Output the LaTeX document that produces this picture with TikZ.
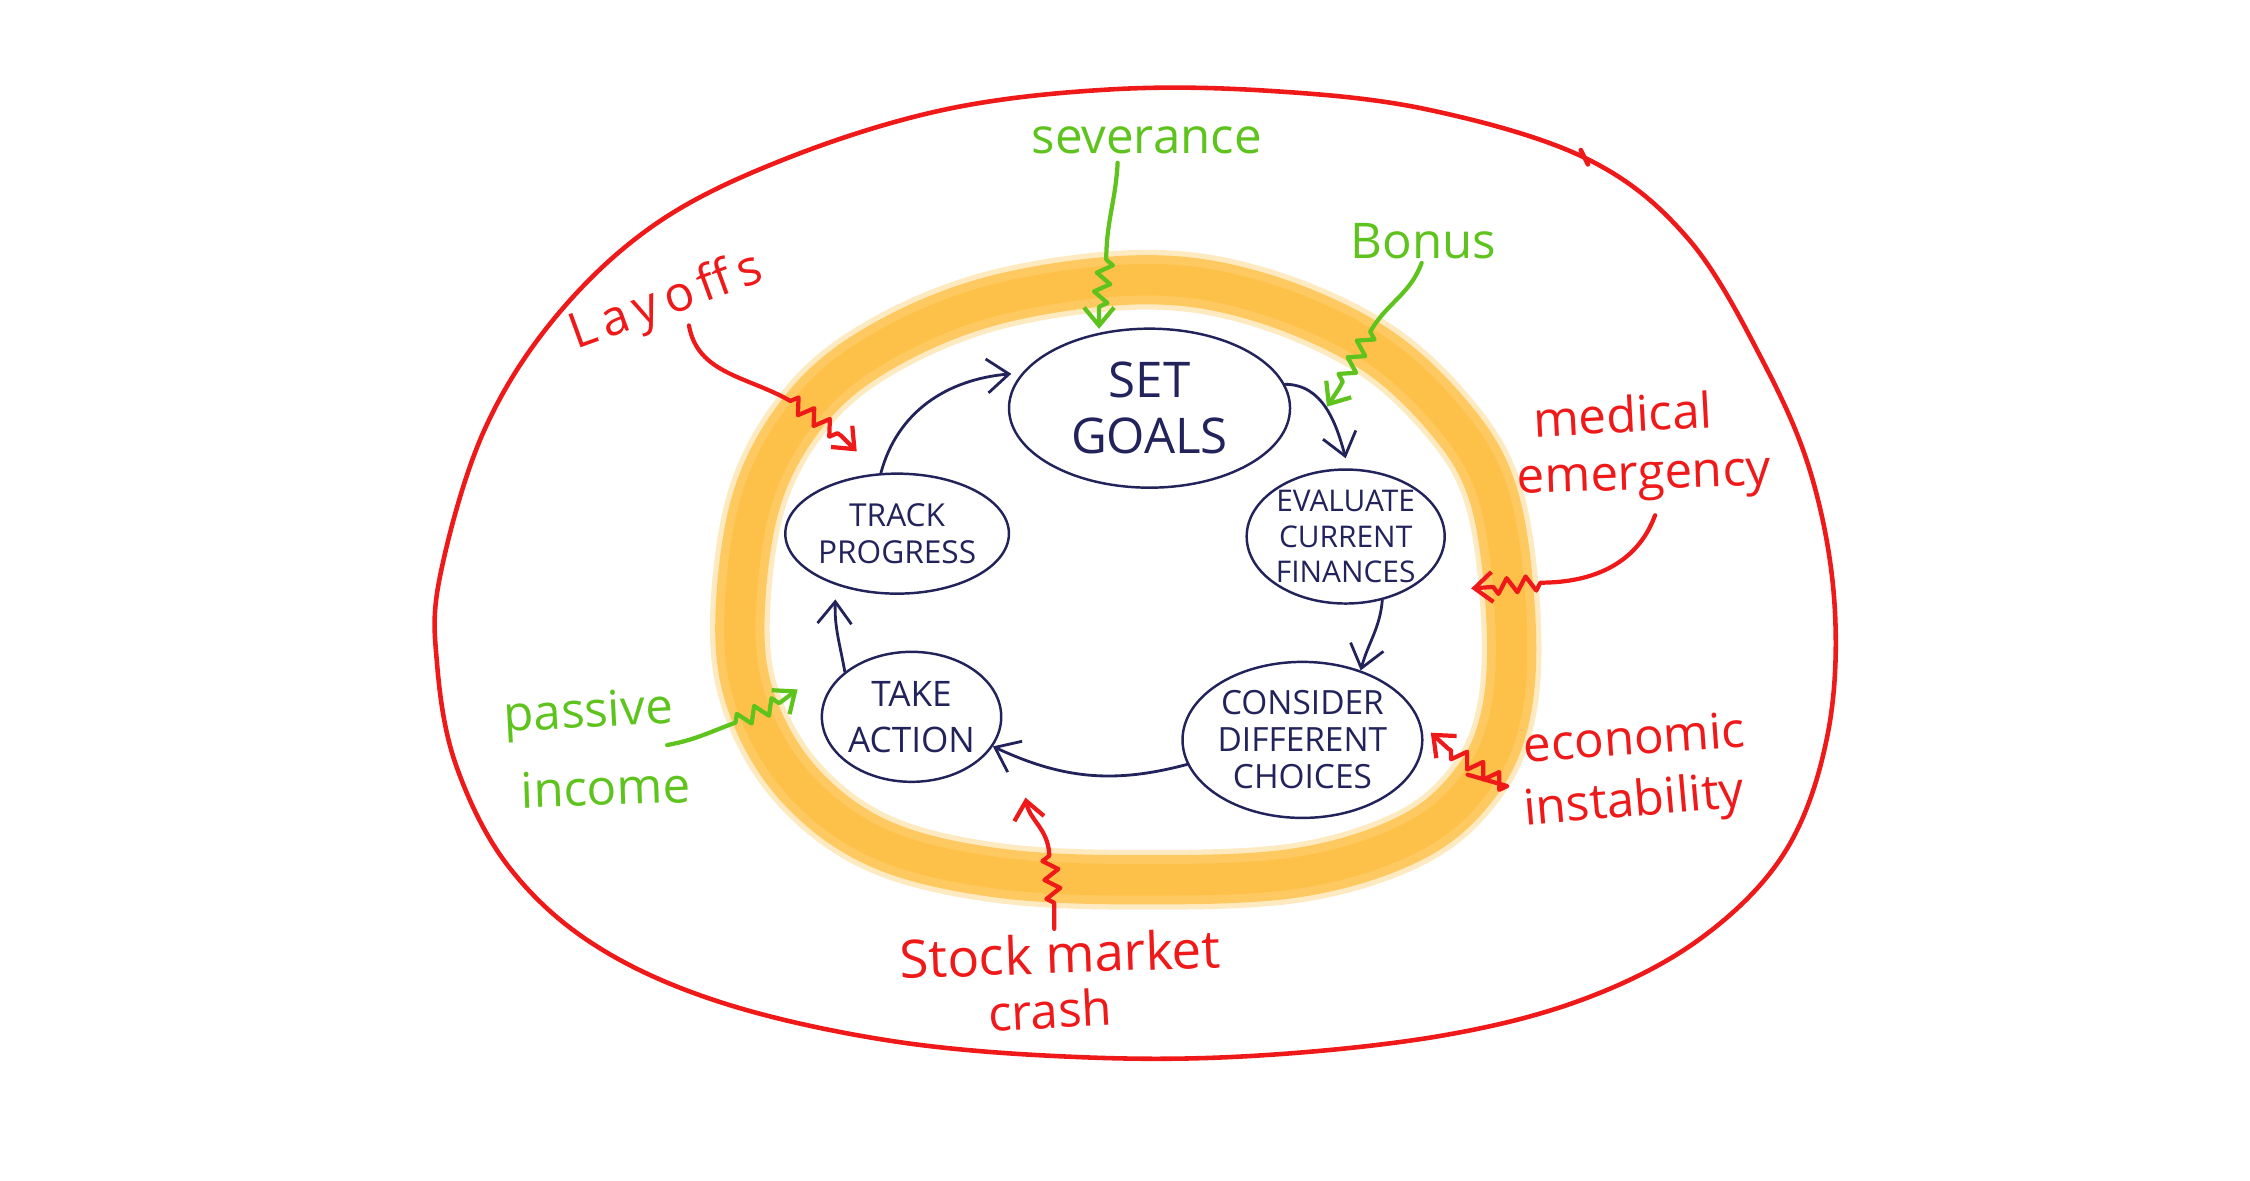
\documentclass[tikz,border=0pt]{standalone}
\usepackage{fontspec}
\setmainfont{Open Sans}
\usetikzlibrary{shapes.geometric,decorations.pathmorphing,arrows.meta}
\definecolor{navy}{RGB}{35,35,92}
\definecolor{hred}{RGB}{240,25,25}
\definecolor{hgreen}{RGB}{95,195,30}
\definecolor{band}{RGB}{253,184,45}
\begin{document}
\begin{tikzpicture}[x=0.14423mm,y=-0.14423mm,
  stepnode/.style={draw=navy,line width=0.7pt,ellipse,inner sep=0pt,align=center,text=navy},
  flow/.style={draw=navy,line width=0.8pt,line cap=round,-{Straight Barb[length=2.2mm,width=3.4mm]}},
  lblr/.style={text=hred,font=\fontsize{14}{16}\selectfont,inner sep=1pt},
  lblg/.style={text=hgreen,font=\fontsize{14}{16}\selectfont,inner sep=1pt},
  hitr/.style={draw=hred,line width=1.2pt,line join=round,line cap=round,-{Straight Barb[length=1.8mm,width=3mm]}},
  hitg/.style={draw=hgreen,line width=1.2pt,line join=round,line cap=round,-{Straight Barb[length=1.8mm,width=3mm]}},
  zz/.style={decoration={zigzag,amplitude=0.75mm,segment length=1.9mm}}
]
\useasboundingbox (0,0) rectangle (1560,818.8);

% outer red boundary
\draw[hred,line width=1.3pt] plot[smooth cycle,tension=0.6] coordinates {
 (305,400) (335,300) (385,220) (455,155) (545,110) (655,76) (770,62) (880,63)
 (990,76) (1100,110) (1170,165) (1222,250) (1256,330) (1272,420) (1267,510)
 (1238,590) (1180,650) (1100,692) (1000,718) (870,732) (750,733) (620,722)
 (500,695) (412,655) (352,600) (316,530) (303,460)};
\draw[hred,line width=1.3pt,line cap=round] (1096,104) -- (1101,114);

% orange band
\foreach \w/\o in {17pt/0.3,14pt/0.65,9pt/0.45}{
\draw[band,line width=\w,opacity=\o] plot[smooth cycle,tension=0.6] coordinates {
 (513,430) (525,345) (560,282) (612,240) (690,208) (790,194) (870,205)
 (950,240) (1005,290) (1035,342) (1047,420) (1045,490) (1025,540) (980,580)
 (900,605) (790,610) (690,605) (610,585) (555,545) (522,490)};
}

% step nodes
\node[stepnode,minimum width=28.1mm,minimum height=15.9mm,font=\fontsize{14}{16}\selectfont] (sg) at (797,283) {SET\\GOALS};
\node[stepnode,minimum width=19.8mm,minimum height=13.4mm,font=\fontsize{8.5}{10}\selectfont] (ev) at (933,372) {EVALUATE\\CURRENT\\FINANCES};
\node[stepnode,minimum width=23.8mm,minimum height=15.6mm,font=\fontsize{9.5}{10.5}\selectfont] (co) at (903,513) {CONSIDER\\DIFFERENT\\CHOICES};
\node[stepnode,minimum width=15.9mm,minimum height=13mm,font=\fontsize{10}{13}\selectfont] (ta) at (632,497) {TAKE\\ACTION};
\node[stepnode,minimum width=19mm,minimum height=12mm,font=\fontsize{9}{10.5}\selectfont] (tr) at (622,370) {TRACK\\PROGRESS};

% flow arrows
\draw[flow] (tr.105) to[out=75,in=185] ([xshift=-1mm]sg.165);
\draw[flow] (sg.10) to[out=0,in=105] ([yshift=1mm]ev.north);
\draw[flow] (ev.-60) to[out=-95,in=75] (co.50);
\draw[flow] (co.192) to[out=195,in=-25] (ta.-20);
\draw[flow] (ta.146) to[out=100,in=-92] ([xshift=-1.5mm,yshift=-1mm]tr.230);

% labels
\node[lblg] (sev) at (795,97) {severance};
\node[lblg] (bon) at (987,167) {Bonus};
\node[lblr,rotate=20,font=\fontsize{14}{16}\selectfont\addfontfeatures{LetterSpace=15}] (lay) at (462,210) {Layoffs};
\node[lblr,rotate=3] (med) at (1125,287) {medical};
\node[lblr,rotate=2] (emg) at (1140,334) {emergency};
\node[lblr,rotate=4] (eco) at (1133,511) {economic};
\node[lblr,rotate=5] (ins) at (1133,557) {instability};
\node[lblr,rotate=2,font=\fontsize{15}{17}\selectfont] (stk) at (735,661) {Stock market};
\node[lblr,rotate=3] (cra) at (728,700) {crash};
\node[lblg,rotate=3] (pas) at (408,496) {passive};
\node[lblg,rotate=2] (inc) at (420,546) {income};

% impact coordinates
\coordinate (sevA) at (767,180); \coordinate (sevB) at (762,214); \coordinate (sevT) at (762,228);
\coordinate (bonA) at (950,230); \coordinate (bonB) at (928,270); \coordinate (bonT) at (920,282);
\coordinate (layA) at (548,278); \coordinate (layB) at (583,302); \coordinate (layT) at (594,313);
\coordinate (medA) at (1068,404); \coordinate (medB) at (1034,407); \coordinate (medT) at (1020,408);
\coordinate (ecoA) at (1045,545); \coordinate (ecoB) at (1004,519); \coordinate (ecoT) at (992,508);
\coordinate (stkA) at (731,626); \coordinate (stkB) at (727,588); \coordinate (stkT) at (711,553);
\coordinate (pasA) at (510,501); \coordinate (pasB) at (541,487); \coordinate (pasT) at (553,478);

% impact arrows
\draw[hitg] ([xshift=-2.9mm,yshift=-0.5mm]sev.south) to[out=-93,in=90] (sevA) decorate[zz]{-- (sevB)} -- (sevT);
\draw[hitg] (bon.-95) to[out=-110,in=60] (bonA) decorate[zz]{-- (bonB)} -- (bonT);
\draw[hitr] (lay.-65) to[out=-80,in=150] (layA) decorate[zz]{-- (layB)} -- (layT);
\draw[hitr] ([xshift=1mm,yshift=-1mm]emg.south) to[out=-110,in=0] (medA) decorate[zz]{-- (medB)} -- (medT);
\draw[hitr] ([xshift=-5mm,yshift=1mm]ins.north west) -- (ecoA) decorate[zz]{-- (ecoB)} -- (ecoT);
\draw[hitr] ([xshift=-0.5mm]stk.north) -- (stkA) decorate[zz]{-- (stkB)} to[out=100,in=-80] (stkT);
\draw[hitg] ([xshift=-1mm,yshift=2mm]pas.east |- inc.north) to[out=10,in=200] (pasA) decorate[zz]{-- (pasB)} -- (pasT);
\end{tikzpicture}
\end{document}
